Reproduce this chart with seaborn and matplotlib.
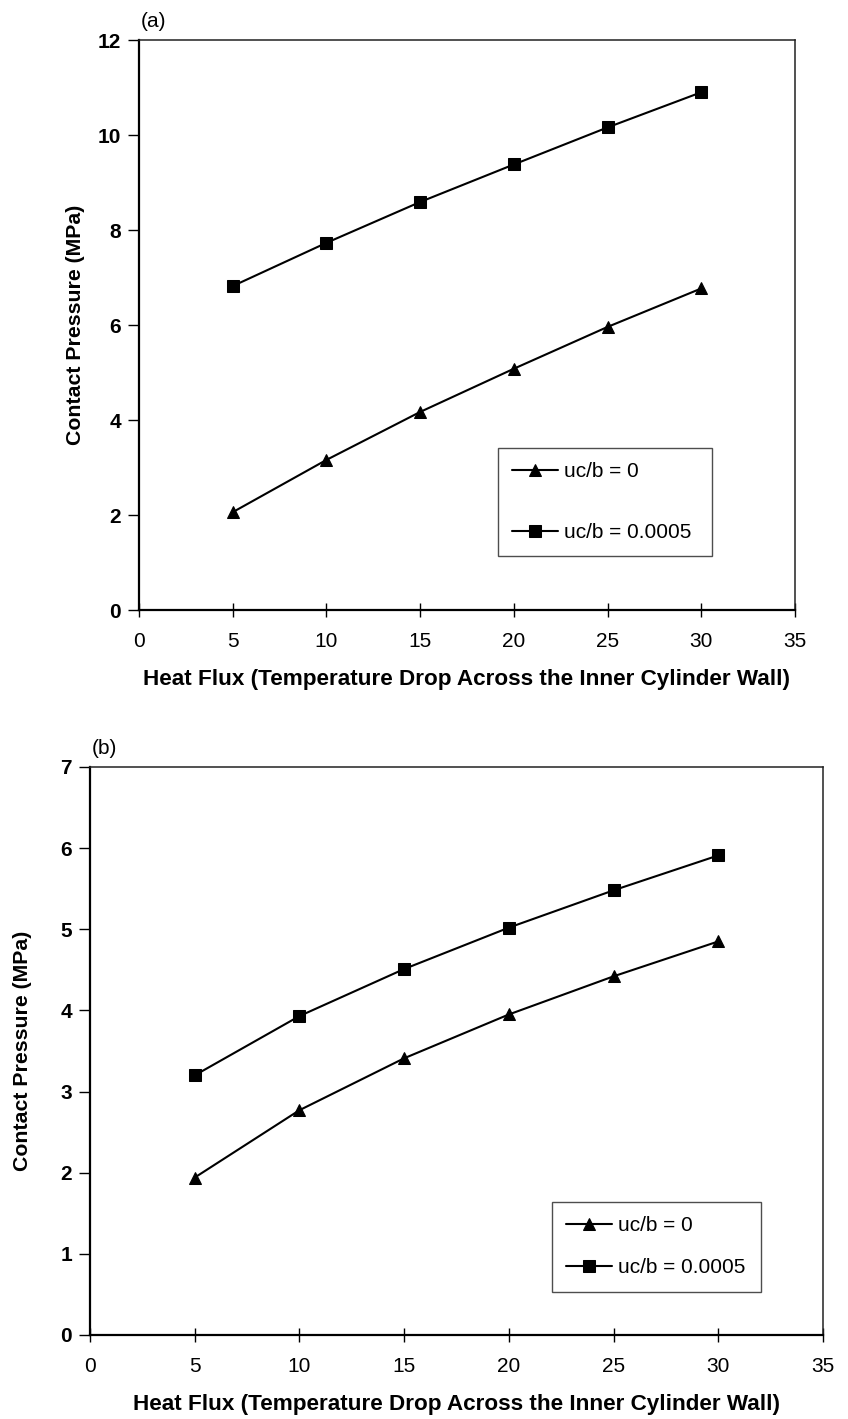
import matplotlib
matplotlib.use("Agg")
import matplotlib.pyplot as plt
import seaborn as sns
import pandas as pd

heat_flux = [5, 10, 15, 20, 25, 30]
series_names = ["uc/b = 0", "uc/b = 0.0005"]
a_uc0 = [2.06, 3.16, 4.17, 5.08, 5.96, 6.77]
a_uc5 = [6.82, 7.73, 8.59, 9.38, 10.16, 10.90]
b_uc0 = [1.94, 2.77, 3.41, 3.95, 4.42, 4.85]
b_uc5 = [3.20, 3.93, 4.51, 5.02, 5.48, 5.91]
x_ticks = [0, 5, 10, 15, 20, 25, 30, 35]
a_yticks = [0, 2, 4, 6, 8, 10, 12]
b_yticks = [0, 1, 2, 3, 4, 5, 6, 7]

sns.set_theme(style="white")
plt.rcParams['font.family'] = ['Liberation Sans', 'DejaVu Sans']
plt.rcParams['text.color'] = 'black'
plt.rcParams['axes.labelcolor'] = 'black'
plt.rcParams['xtick.color'] = 'black'
plt.rcParams['ytick.color'] = 'black'

def long_df(v0, v5):
    return pd.DataFrame({
        "x": heat_flux * 2,
        "y": v0 + v5,
        "series": [series_names[0]] * len(heat_flux) + [series_names[1]] * len(heat_flux),
    })

fig = plt.figure(figsize=(8.48, 14.19), dpi=100)
ax_a = fig.add_axes([0.1639, 0.5701, 0.7736, 0.4017])
ax_b = fig.add_axes([0.1061, 0.0592, 0.8644, 0.4003])

panels = [
    (ax_a, long_df(a_uc0, a_uc5), a_yticks, "(a)", (0.547, 0.0965, 0.326, 0.186), 2.0, 9),
    (ax_b, long_df(b_uc0, b_uc5), b_yticks, "(b)", (0.630, 0.079, 0.285, 0.153), 1.1, 20),
]

for ax, df, yticks, tag, bbox, lsp, ypad in panels:
    sns.lineplot(data=df, x="x", y="y", style="series",
                 markers={series_names[0]: "^", series_names[1]: "s"},
                 dashes=False, color="black", linewidth=1.5, markersize=8.5,
                 markeredgecolor="black", ax=ax, legend=True)
    ax.set_xlim(0, 35)
    ax.set_ylim(yticks[0], yticks[-1])
    ax.set_xticks(x_ticks)
    ax.set_yticks(yticks)
    for name, s in ax.spines.items():
        s.set_visible(True)
        if name in ("left", "bottom"):
            s.set_color("black")
            s.set_linewidth(1.6)
        else:
            s.set_color("#222222")
            s.set_linewidth(1.1)
    ax.tick_params(axis="x", direction="inout", length=10, width=1, color="black",
                   bottom=True, labelsize=15, pad=11)
    ax.tick_params(axis="y", direction="out", length=8, width=1, color="black",
                   left=True, labelsize=15, pad=5)
    for lab in ax.get_yticklabels():
        lab.set_fontweight("bold")
    ax.set_xlabel("Heat Flux (Temperature Drop Across the Inner Cylinder Wall)",
                  fontsize=16.2, fontweight="bold", labelpad=13)
    ax.set_ylabel("Contact Pressure (MPa)", fontsize=15.3, fontweight="bold", labelpad=ypad)
    ax.text(0.003, 1.015, tag, transform=ax.transAxes, fontsize=15, ha="left", va="bottom")
    handles, labels = ax.get_legend_handles_labels()
    leg = ax.legend(handles, labels, loc="center", bbox_to_anchor=bbox,
                    bbox_transform=ax.transAxes, mode="expand",
                    fontsize=15, frameon=True, fancybox=False, shadow=False,
                    labelspacing=lsp, handlelength=2.2, handletextpad=0.3,
                    borderaxespad=0, borderpad=0.7)
    leg.get_frame().set_edgecolor("#222222")
    leg.get_frame().set_linewidth(1.0)

fig.savefig("out.png", dpi=100)
